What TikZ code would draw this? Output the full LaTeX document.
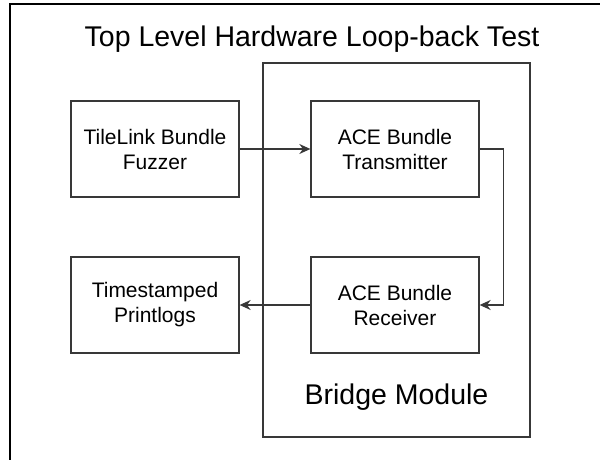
\documentclass[tikz,border=0pt]{standalone}
\usepackage{fontspec}
\setmainfont{Liberation Sans}
\usetikzlibrary{arrows.meta}
\definecolor{edgegray}{HTML}{383838}
\begin{document}
\begin{tikzpicture}[x=1pt,y=-1pt,
  blk/.style={draw=edgegray, line width=1.3pt, minimum width=168pt, minimum height=96pt,
    align=center, inner sep=0pt, font=\fontsize{21}{25}\selectfont},
  big/.style={font=\fontsize{28.5}{32}\selectfont, inner sep=0pt},
  link/.style={draw=edgegray, line width=1.3pt, -{Stealth[length=11pt,width=10pt]}}]
\useasboundingbox (0,0) rectangle (600,460);
\fill[white] (0,0) rectangle (600,460);
% outer frame, running off the page at right and bottom
\draw[line width=2pt] (9.5,462) -- (9.5,4.5) -- (602,4.5);
\node[big] (title) at (312,39) {Top Level Hardware Loop-back Test};
% bridge module container
\node[draw=edgegray, line width=1.3pt, minimum width=267pt, minimum height=374pt, inner sep=0pt] (bridge) at (396.5,250) {};
\node[big] (bridgelabel) at (396.5,397) {Bridge Module};
% blocks
\node[blk] (fuzz) at (155,149) {TileLink Bundle\\Fuzzer};
\node[blk] (tx) at (395,149) {ACE Bundle\\Transmitter};
\node[blk] (logs) at (155,305) {Timestamped\\Printlogs};
\node[blk] (rx) at (395,305) {ACE Bundle\\Receiver};
% connectors
\draw[link] (fuzz.east) -- (tx.west);
\draw[link] (tx.east) -- ++(24,0) |- (rx.east);
\draw[link] (rx.west) -- (logs.east);
\end{tikzpicture}
\end{document}
